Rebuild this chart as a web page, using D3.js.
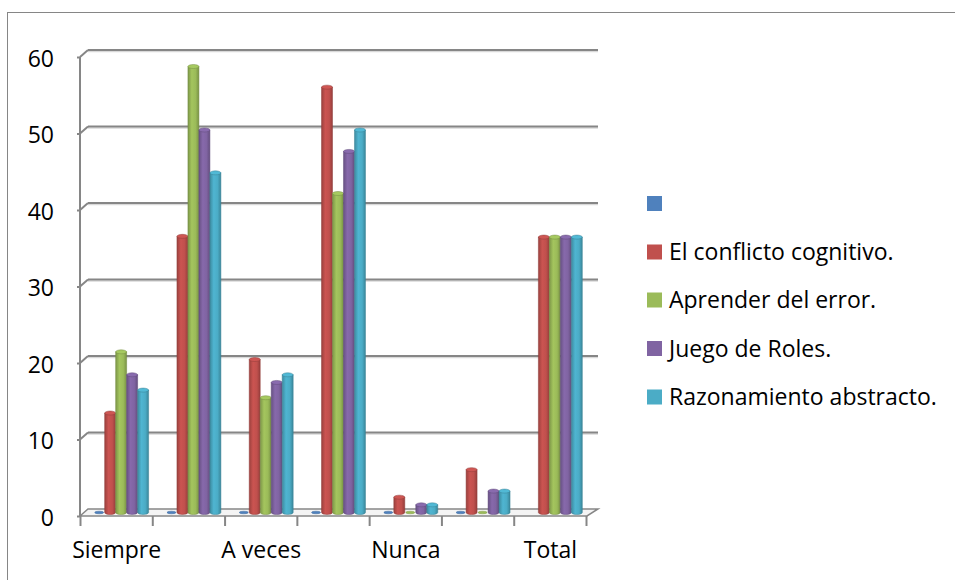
<!DOCTYPE html>
<html><head><meta charset="utf-8">
<script src="https://cdn.jsdelivr.net/npm/d3@7"></script>
<style>
body{margin:0;background:#fff;}
text{font-family:"Open Sans","Noto Sans",sans-serif;fill:#000;}
</style></head>
<body><svg id="c" width="955" height="580"></svg>
<script>
const categories = ["Siempre", "", "A veces", "", "Nunca", "", "Total"];
const seriesNames = ["", "El conflicto cognitivo.", "Aprender del error.", "Juego de Roles.", "Razonamiento abstracto."];
const serieBlank = [0, 0, 0, 0, 0, 0, null];
const conflicto = [13, 36.1, 20, 55.6, 2, 5.6, 36];
const aprender = [21, 58.3, 15, 41.7, 0, 0, 36];
const juego = [18, 50, 17, 47.2, 1, 2.8, 36];
const razonamiento = [16, 44.4, 18, 50, 1, 2.8, 36];
const yTicks = [0, 10, 20, 30, 40, 50, 60];
const colors = ["#4F81BD", "#C0504D", "#9BBB59", "#8064A2", "#4BACC6"];
const allSeries = [serieBlank, conflicto, aprender, juego, razonamiento];

const svg = d3.select("#c");
const FS = 23;
const FONT = "'Open Sans'";
// frame
svg.append("rect").attr("x", 7.5).attr("y", 12.5).attr("width", 960).attr("height", 600)
  .attr("fill", "none").attr("stroke", "#868686").attr("stroke-width", 1);

const x = d3.scaleBand().domain(d3.range(categories.length)).range([80.5, 586.5]);
const y = d3.scaleLinear().domain([0, 60]).range([516, 57]);
const DX = 8, DY = -7; // depth of back wall
const xs = d3.scaleBand().domain(d3.range(allSeries.length))
  .range([x.bandwidth() * 0.12, x.bandwidth() * 0.88]);

const defs = svg.append("defs");
colors.forEach((c, i) => {
  const base = d3.color(c);
  const g = defs.append("linearGradient").attr("id", "g" + i).attr("x1", "0").attr("x2", "1").attr("y1", "0").attr("y2", "0");
  g.append("stop").attr("offset", "0%").attr("stop-color", base.darker(0.6));
  g.append("stop").attr("offset", "35%").attr("stop-color", base.brighter(0.15));
  g.append("stop").attr("offset", "70%").attr("stop-color", base);
  g.append("stop").attr("offset", "100%").attr("stop-color", base.darker(0.7));
});

// gridlines on back wall (with soft shadow)
const grid = svg.append("g");
yTicks.forEach(t => {
  if (t === 0) return;
  grid.append("line").attr("x1", 80 + DX).attr("x2", 598).attr("y1", y(t) + DY + 1.5).attr("y2", y(t) + DY + 1.5)
    .attr("stroke", "#d9d9d9").attr("stroke-width", 1.5);
  grid.append("line").attr("x1", 80 + DX).attr("x2", 598).attr("y1", y(t) + DY).attr("y2", y(t) + DY)
    .attr("stroke", "#868686").attr("stroke-width", 2);
  grid.append("line").attr("x1", 80).attr("x2", 80 + DX).attr("y1", y(t)).attr("y2", y(t) + DY)
    .attr("stroke", "#868686").attr("stroke-width", 2);
});
// floor
const fl = svg.append("g").attr("stroke", "#868686").attr("stroke-width", 2).attr("fill", "none");
fl.append("path").attr("d", `M80,${y(0)}L${80 + DX},${y(0) + DY}L598,${y(0) + DY}L587,${y(0)}Z`)
  .attr("fill", "#f4f4f4").attr("stroke-width", 1.5);
// y axis line
fl.append("line").attr("x1", 80).attr("x2", 80).attr("y1", y(60)).attr("y2", y(0));
// category boundary ticks
d3.range(categories.length + 1).forEach(i => {
  const xx = i < categories.length ? x(i) : x(categories.length - 1) + x.bandwidth();
  fl.append("line").attr("x1", xx).attr("x2", xx).attr("y1", y(0)).attr("y2", y(0) + 10);
});

// y axis labels
const yAxis = svg.append("g").attr("transform", "translate(80,0)")
  .call(d3.axisLeft(y).tickValues(yTicks).tickSize(3).tickPadding(23));
yAxis.select(".domain").remove();
yAxis.selectAll(".tick line").attr("stroke", "#868686").attr("stroke-width", 2);
yAxis.selectAll("text").attr("font-size", FS).attr("font-family", FONT).attr("dy", "0.4em");

// x axis labels
const xAxis = svg.append("g").attr("transform", `translate(0,${y(0)})`)
  .call(d3.axisBottom(x).tickFormat(i => categories[i]).tickSize(0).tickPadding(26));
xAxis.select(".domain").remove();
xAxis.selectAll("text").attr("font-size", FS).attr("font-family", FONT);

// bars (cylinders)
const bars = svg.append("g");
const BX = 4.5, BY = -3.5;
const bw = xs.bandwidth();
categories.forEach((cat, ci) => {
  allSeries.forEach((arr, si) => {
    const v = arr[ci];
    if (v === null || v === undefined) return;
    const x0 = x(ci) + xs(si) + BX;
    const yb = y(0) + BY;
    const yt = y(v) + BY;
    const ry = 2;
    const g = bars.append("g");
    if (v > 0) {
      g.append("path")
        .attr("d", `M${x0},${yt}L${x0},${yb}A${bw / 2},${ry} 0 0 0 ${x0 + bw},${yb}L${x0 + bw},${yt}Z`)
        .attr("fill", `url(#g${si})`).attr("stroke", d3.color(colors[si]).darker(0.8)).attr("stroke-width", 0.5);
      g.append("ellipse").attr("cx", x0 + bw / 2).attr("cy", yt).attr("rx", bw / 2).attr("ry", ry)
        .attr("fill", d3.color(colors[si]).brighter(0.2)).attr("stroke", d3.color(colors[si]).darker(0.8)).attr("stroke-width", 0.5);
    } else {
      g.append("ellipse").attr("cx", x0 + bw / 2).attr("cy", yb).attr("rx", bw / 2 - 1).attr("ry", 1.3)
        .attr("fill", colors[si]).attr("stroke", d3.color(colors[si]).darker(0.5)).attr("stroke-width", 0.5);
    }
  });
});

// legend
const leg = svg.append("g");
const legY = [203.5, 252, 300, 348.5, 397];
seriesNames.forEach((n, i) => {
  leg.append("rect").attr("x", 647).attr("y", legY[i] - 7.5).attr("width", 15).attr("height", 15).attr("fill", colors[i]);
  leg.append("text").attr("x", 669).attr("y", legY[i]).attr("dy", "0.36em").attr("font-size", FS).attr("font-family", FONT).text(n);
});
</script></body></html>
